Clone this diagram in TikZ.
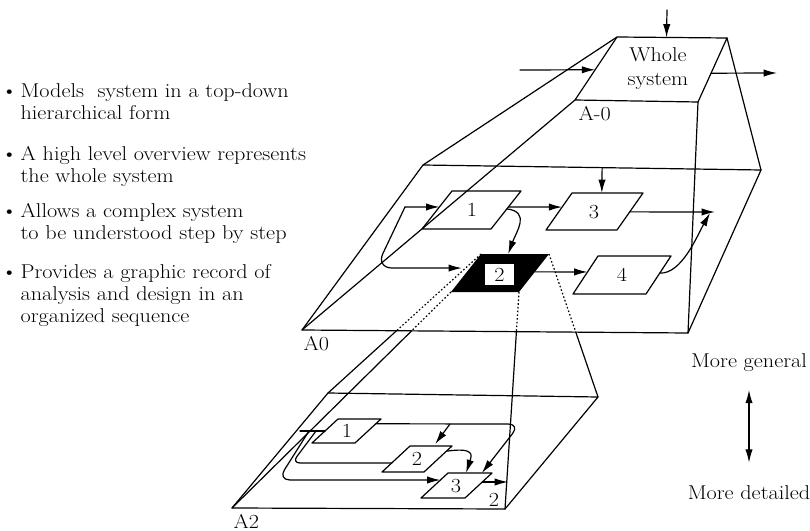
\documentclass[tikz,border=0pt]{standalone}
\usepackage{fontspec}
\setmainfont{Latin Modern Roman}[FakeStretch=1.11]
\usepackage{tikz}
\usetikzlibrary{arrows.meta,calc}

\begin{document}
\begin{tikzpicture}[x=0.75pt,y=-0.75pt,>={Latex[length=10pt,width=5.5pt]},
    line width=0.9pt,line cap=round,line join=round,
    every node/.style={inner sep=0pt,font=\fontsize{15}{18}\selectfont},
    hidden/.style={dash pattern=on 1.2pt off 1.6pt,line cap=butt},
    item/.style={anchor=north west,align=left,font=\fontsize{15}{16.5}\selectfont}]
  \useasboundingbox (0,0) rectangle (810,531);

  % points on the left
  \node[item] (pt1) at (20,83) {\llap{\textbullet\,}Models~ system in a top-down\\hierarchical form};
  \node[item] (pt2) at (20,146) {\llap{\textbullet\,}A high level overview represents\\the whole system};
  \node[item] (pt3) at (20,203) {\llap{\textbullet\,}Allows a complex system\\to be understood step by step};
  \node[item] (pt4) at (20,264) {\llap{\textbullet\,}Provides a graphic record of\\analysis and design in an\\organized sequence};

  % level A-0
  \draw (617,37) coordinate (t1) -- (727,38) coordinate (t2) -- (698,102) coordinate (t3) -- (575,100) coordinate (t4) -- cycle;
  \node[align=center] (whole) at (658,69) {Whole\\system};
  \node[anchor=west] (lvl0) at (578,114) {A-0};
  \coordinate (in0) at (520,70);
  \coordinate (out0) at (777,73);
  \coordinate (ctl0) at (667,10);
  \draw[->] (in0) -- ($(t1)!0.52!(t4)$);
  \draw[->] ($(t2)!0.55!(t3)$) -- (out0);
  \draw[->] (ctl0) -- ($(t1)!0.45!(t2)$);

  % level A0
  \draw (423,165) coordinate (p1) -- (761,170) coordinate (p2) -- (688,333) coordinate (p3) -- (302,330) coordinate (p4) -- cycle;
  \draw (t1) -- (p1) (t2) -- (p2) (t3) -- (p3) (t4) -- (p4);
  \node[anchor=west] (lvlA0) at (303,344) {A0};

  \draw (452,191) coordinate (b1nw) -- ++(69,0) coordinate (b1ne) -- ++(-30,38) coordinate (b1se) -- ++(-69,0) coordinate (b1sw) -- cycle;
  \node (n1) at (472,210) {1};
  \draw (572,193) coordinate (b3nw) -- ++(71,0) coordinate (b3ne) -- ++(-26,37) coordinate (b3se) -- ++(-71,0) coordinate (b3sw) -- cycle;
  \node (n3) at (594,212) {3};
  \draw (598,256) coordinate (b4nw) -- ++(73,0) coordinate (b4ne) -- ++(-25,38) coordinate (b4se) -- ++(-73,0) coordinate (b4sw) -- cycle;
  \node (n4) at (622,275) {4};
  \fill (481,254) coordinate (knw) -- ++(68,0) coordinate (kne) -- ++(-30,38) coordinate (kse) -- ++(-68,0) coordinate (ksw) -- cycle;
  \node[fill=white,minimum width=21.75pt,minimum height=15.75pt] (n2) at (499.5,274.5) {2};

  \coordinate (c3) at ($(p1)!0.53!(p2)$);
  \draw[->] (c3) -- ($(b3nw)!0.42!(b3ne)$);
  \draw[->] ($(b1ne)!0.42!(b1se)$) -- ($(b3nw)!0.38!(b3sw)$);
  \draw[->] ($(b1ne)!0.47!(b1se)$) .. controls +(24,3) and +(8,-22) .. ($(knw)!0.4!(kne)$);
  \coordinate (fb) at (405,207);
  \coordinate (fbc) at (376,268);
  \draw[->] (fb) -- ($(b1nw)!0.42!(b1sw)$);
  \draw[->,rounded corners=12pt] (fb) -- (fbc) -- ($(knw)!0.37!(ksw)+(-8,0)$);
  \draw[->] ($(kne)!0.47!(kse)$) -- ($(b4nw)!0.42!(b4sw)$);
  \coordinate (out3) at (715,212);
  \draw[->] ($(b3ne)!0.51!(b3se)$) -- (out3);
  \draw[->] ($(b4ne)!0.45!(b4se)$) .. controls +(22,1) and +(-13,23) .. ($(out3)+(-5,1)$);

  % level A2
  \draw (328,393) coordinate (q1) -- (598,397) coordinate (q2) -- (505,509) coordinate (q3) -- (232,508) coordinate (q4) -- cycle;
  \coordinate (x1) at (intersection of knw--q1 and p4--p3);
  \coordinate (x2) at (intersection of kne--q2 and p4--p3);
  \coordinate (x3) at (intersection of kse--q3 and p4--p3);
  \coordinate (x4) at (intersection of ksw--q4 and p4--p3);
  \draw[hidden] (knw) -- (x1) (kne) -- (x2) (kse) -- (x3) (ksw) -- (x4);
  \draw (x1) -- (q1) (x2) -- (q2) (x3) -- (q3) (x4) -- (q4);
  \node[anchor=west] (lvlA2) at (233,521) {A2};

  \draw (338,419) coordinate (a1nw) -- ++(43,0) coordinate (a1ne) -- ++(-26,24) coordinate (a1se) -- ++(-43,0) coordinate (a1sw) -- cycle;
  \node (m1) at (347,431) {1};
  \draw (410,446) coordinate (a2nw) -- ++(42,0) coordinate (a2ne) -- ++(-28,26) coordinate (a2se) -- ++(-42,0) coordinate (a2sw) -- cycle;
  \node (m2) at (417,459) {2};
  \draw (448,473) coordinate (a3nw) -- ++(44,0) coordinate (a3ne) -- ++(-27,25) coordinate (a3se) -- ++(-44,0) coordinate (a3sw) -- cycle;
  \node (m3) at (456,486) {3};

  \coordinate (in2) at (300,431);
  \coordinate (sp1) at (316,431);
  \coordinate (sp2) at (309,431);
  \coordinate (turn2) at (520,424);
  \coordinate (br2) at (450,424);
  \coordinate (out2) at (508,482);
  \draw (in2) -- ($(a1nw)!0.5!(a1sw)$);
  \draw[->,rounded corners=9pt] ($(a1ne)!0.2!(a1se)$) -- (turn2) -- ($(a3nw)!0.77!(a3ne)$);
  \draw[->] (br2) -- ($(a2nw)!0.6!(a2ne)+(0,-2)$);
  \draw[->] ($(a2ne)!0.2!(a2se)$) .. controls +(28,-4) and +(6,-18) .. ($(a3nw)!0.41!(a3ne)$);
  \draw[rounded corners=6pt] (sp1) -- (292,463) -- ($(a2nw)!0.65!(a2sw)$);
  \draw[->,rounded corners=9pt] (sp2) -- (278,480) -- ($(a3nw)!0.28!(a3sw)$);
  \draw[->] ($(a3ne)!0.36!(a3se)$) -- (out2);
  \node (lbl2) at (494,500) {2};

  % direction of detail
  \node (gen) at (749,363) {More general};
  \node (det) at (749,493) {More detailed};
  \draw[<->,shorten <=13pt,shorten >=17pt] (gen) -- (det);
\end{tikzpicture}
\end{document}
